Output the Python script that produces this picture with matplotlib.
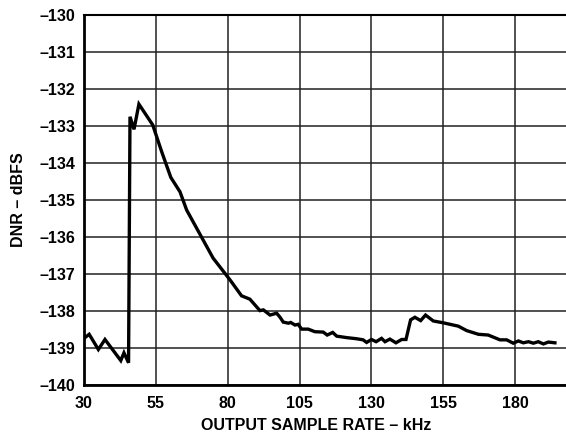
import matplotlib.pyplot as plt

plt.rcParams['font.family'] = ['Liberation Sans', 'DejaVu Sans']
plt.rcParams['font.weight'] = 'bold'

# output sample rate (kHz) vs DNR (dBFS)
rate_khz = [30.0, 31.8, 35.0, 37.3, 42.8, 43.9, 45.5, 46.0, 47.4, 49.1,
            53.9, 57.0, 60.2, 63.4, 65.7, 70.3, 74.9, 80.8, 84.8, 87.7,
            89.5, 91.2, 92.4, 94.7, 97.0, 98.2, 99.3, 101.1, 101.9, 103.4,
            104.5, 105.7, 108.0, 110.3, 113.2, 114.6, 116.5, 117.9, 121.4, 124.8,
            127.1, 128.3, 130.0, 131.6, 133.5, 134.7, 136.4, 138.5, 140.5, 142.0,
            143.6, 145.1, 147.1, 148.8, 151.5, 155.0, 160.2, 163.1, 167.2, 170.6,
            174.7, 177.0, 179.3, 181.1, 182.8, 184.6, 186.3, 188.0, 189.8, 191.5,
            193.8]
dnr_dbfs = [-138.74, -138.63, -139.04, -138.77, -139.34, -139.13, -139.40, -132.75, -133.09, -132.41,
            -132.97, -133.69, -134.39, -134.78, -135.27, -135.92, -136.57, -137.16, -137.59, -137.68,
            -137.84, -137.99, -137.97, -138.11, -138.06, -138.17, -138.30, -138.33, -138.31, -138.38,
            -138.36, -138.49, -138.49, -138.56, -138.57, -138.65, -138.58, -138.68, -138.72, -138.75,
            -138.78, -138.85, -138.77, -138.83, -138.74, -138.83, -138.76, -138.86, -138.77, -138.77,
            -138.24, -138.17, -138.26, -138.11, -138.27, -138.32, -138.41, -138.53, -138.63, -138.65,
            -138.78, -138.78, -138.87, -138.81, -138.86, -138.83, -138.87, -138.83, -138.89, -138.84,
            -138.86]

x_ticks = [30, 55, 80, 105, 130, 155, 180]
y_ticks = list(range(-140, -129))
y_labels = ['\u2013%d' % abs(v) for v in y_ticks]

fig = plt.figure(figsize=(5.66, 4.36), dpi=100)
ax = fig.add_axes([0.1484, 0.117, 0.8635, 0.8486])

ax.plot(rate_khz, dnr_dbfs, color='black', linewidth=2.4, solid_joinstyle='miter')

ax.set_xlim(30, 200)
ax.set_ylim(-140, -130)
ax.set_xticks(x_ticks)
ax.set_yticks(y_ticks)
ax.set_yticklabels(y_labels)
ax.grid(True, color='#222222', linewidth=1.1)
ax.tick_params(axis='x', length=0, labelsize=11.5, pad=8)
ax.tick_params(axis='y', length=0, labelsize=11.5, pad=6)

for side in ['left', 'bottom']:
    ax.spines[side].set_linewidth(2.0)
ax.spines['top'].set_linewidth(1.5)
ax.spines['right'].set_visible(False)

ax.set_xlabel('OUTPUT SAMPLE RATE \u2013 kHz', fontsize=11.5, fontweight='bold')
ax.xaxis.set_label_coords(0.475, -0.09)
ax.set_ylabel('DNR \u2013 dBFS', fontsize=11.5, fontweight='bold', labelpad=10)

plt.savefig('out.png', dpi=100)
